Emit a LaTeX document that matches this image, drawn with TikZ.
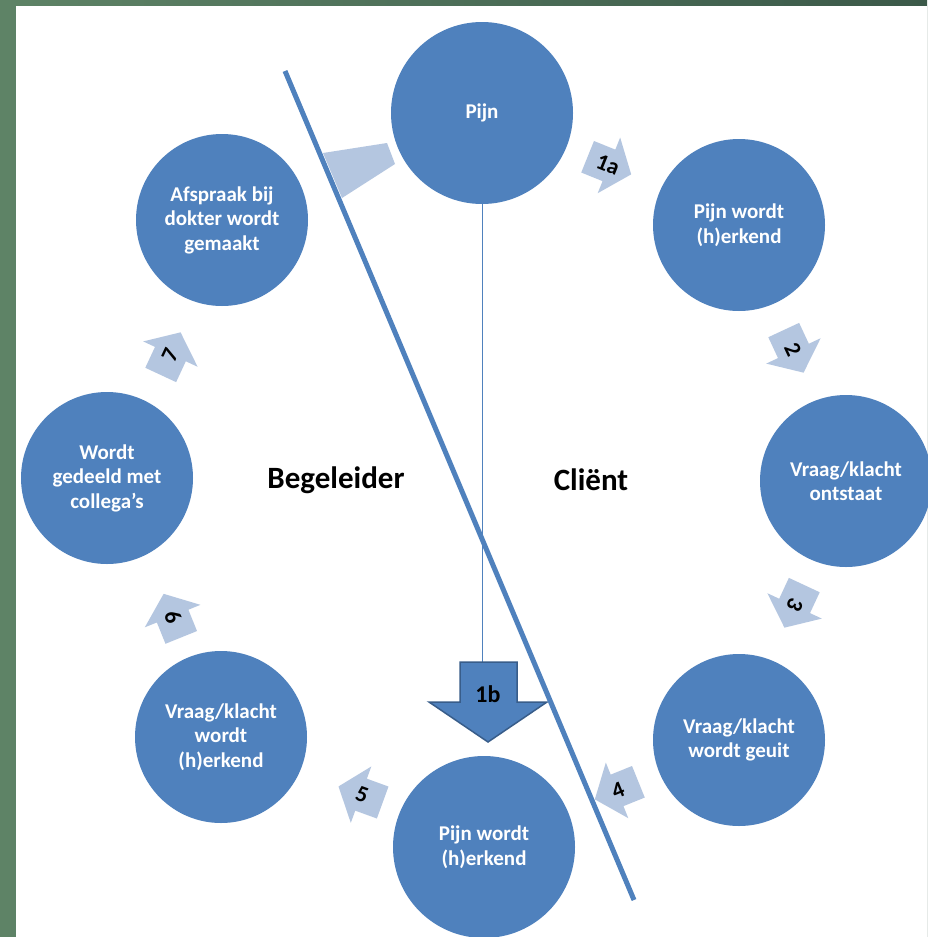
\documentclass[tikz,border=0pt]{standalone}
\usepackage{fontspec}
\setmainfont{Carlito}
\definecolor{cblue}{HTML}{4F81BD}
\definecolor{lblue}{HTML}{B4C6E0}
\definecolor{dblue}{HTML}{385D8A}
\definecolor{gleft}{HTML}{5E8366}
\definecolor{gright}{HTML}{3B5949}
\begin{document}
\begin{tikzpicture}[x=1pt,y=-1pt,
  circ/.style={circle, fill=cblue, draw=none, inner sep=0pt, minimum size=#1,
    text=white, align=center, font=\bfseries\fontsize{21}{24.5}\selectfont},
  circ/.default=172pt,
  numtxt/.style={text=black, inner sep=0pt, font=\bfseries\fontsize{23}{23}\selectfont},
  side/.style={text=black, inner sep=0pt, font=\bfseries\fontsize{31}{34}\selectfont},
  smallarrow/.style={fill=lblue, draw=none},
  divider/.style={draw=cblue, line width=5pt},
  thin/.style={draw=cblue, line width=1pt}]
\useasboundingbox (0,0) rectangle (927,937);
% background
\fill[left color=gleft, right color=gright] (0,0) rectangle (927,937);
\fill[white] (16,6) rectangle (927,937);

% circles
\node[circ=182pt] (pijn) at (482,113) {Pijn};
\node[circ] (pwh) at (739,225) {Pijn wordt\\(h)erkend};
\node[circ] (vko) at (846,481) {Vraag/klacht\\ontstaat};
\node[circ] (vkg) at (739,740) {Vraag/klacht\\wordt geuit};
\node[circ=182pt] (pwh2) at (484,847) {Pijn wordt\\(h)erkend};
\node[circ] (vkwh) at (221,737) {Vraag/klacht\\wordt\\(h)erkend};
\node[circ] (wgc) at (107,478) {Wordt\\gedeeld met\\collega’s};
\node[circ] (afs) at (222,220) {Afspraak bij\\dokter wordt\\gemaakt};

% small cycle arrows
\foreach \x/\y/\a/\t/\r/\n in {608/165/-22/1a/-22/n1a, 793/350/-65/2/-65/n2,
   795/605/-115/3/-115/n3, 618/790/-158/4/22/n4, 362/795/160/5/-20/n5,
   173/617/112/6/-68/n6, 170/355/65/7/65/n7}{
  \fill[smallarrow, shift={(\x,\y)}, rotate=\a]
    (-22,-17) -- (1,-17) -- (1,-30) -- (25,0) -- (1,30) -- (1,17) -- (-22,17) -- cycle;
  \node[numtxt, rotate=\r] (\n) at (\x,\y) {\t};
}

% trapezoid near Pijn
\fill[smallarrow] (323,153) -- (387,143) -- (395,164) -- (342,198) -- cycle;

% arrow 1b
\coordinate (b1top) at (pijn.south |- 0,662);
\draw[thin] (pijn.south) -- (b1top);
\filldraw[fill=cblue, draw=dblue, line width=1.5pt]
  (460,662) -- (517,662) -- (517,702) -- (547,702) -- (488,742) -- (429,702) -- (460,702) -- cycle;
\node[numtxt, font=\bfseries\fontsize{24}{24}\selectfont] (b1) at (488,694) {1b};

% divider
\coordinate (dtop) at (285,71);
\coordinate (dbot) at (634,900);
\draw[divider] (dtop) -- (dbot);

% side labels
\node[side] (beg) at (336,480) {Begeleider};
\node[side] (cli) at (591,480) {Cliënt};
\end{tikzpicture}
\end{document}
